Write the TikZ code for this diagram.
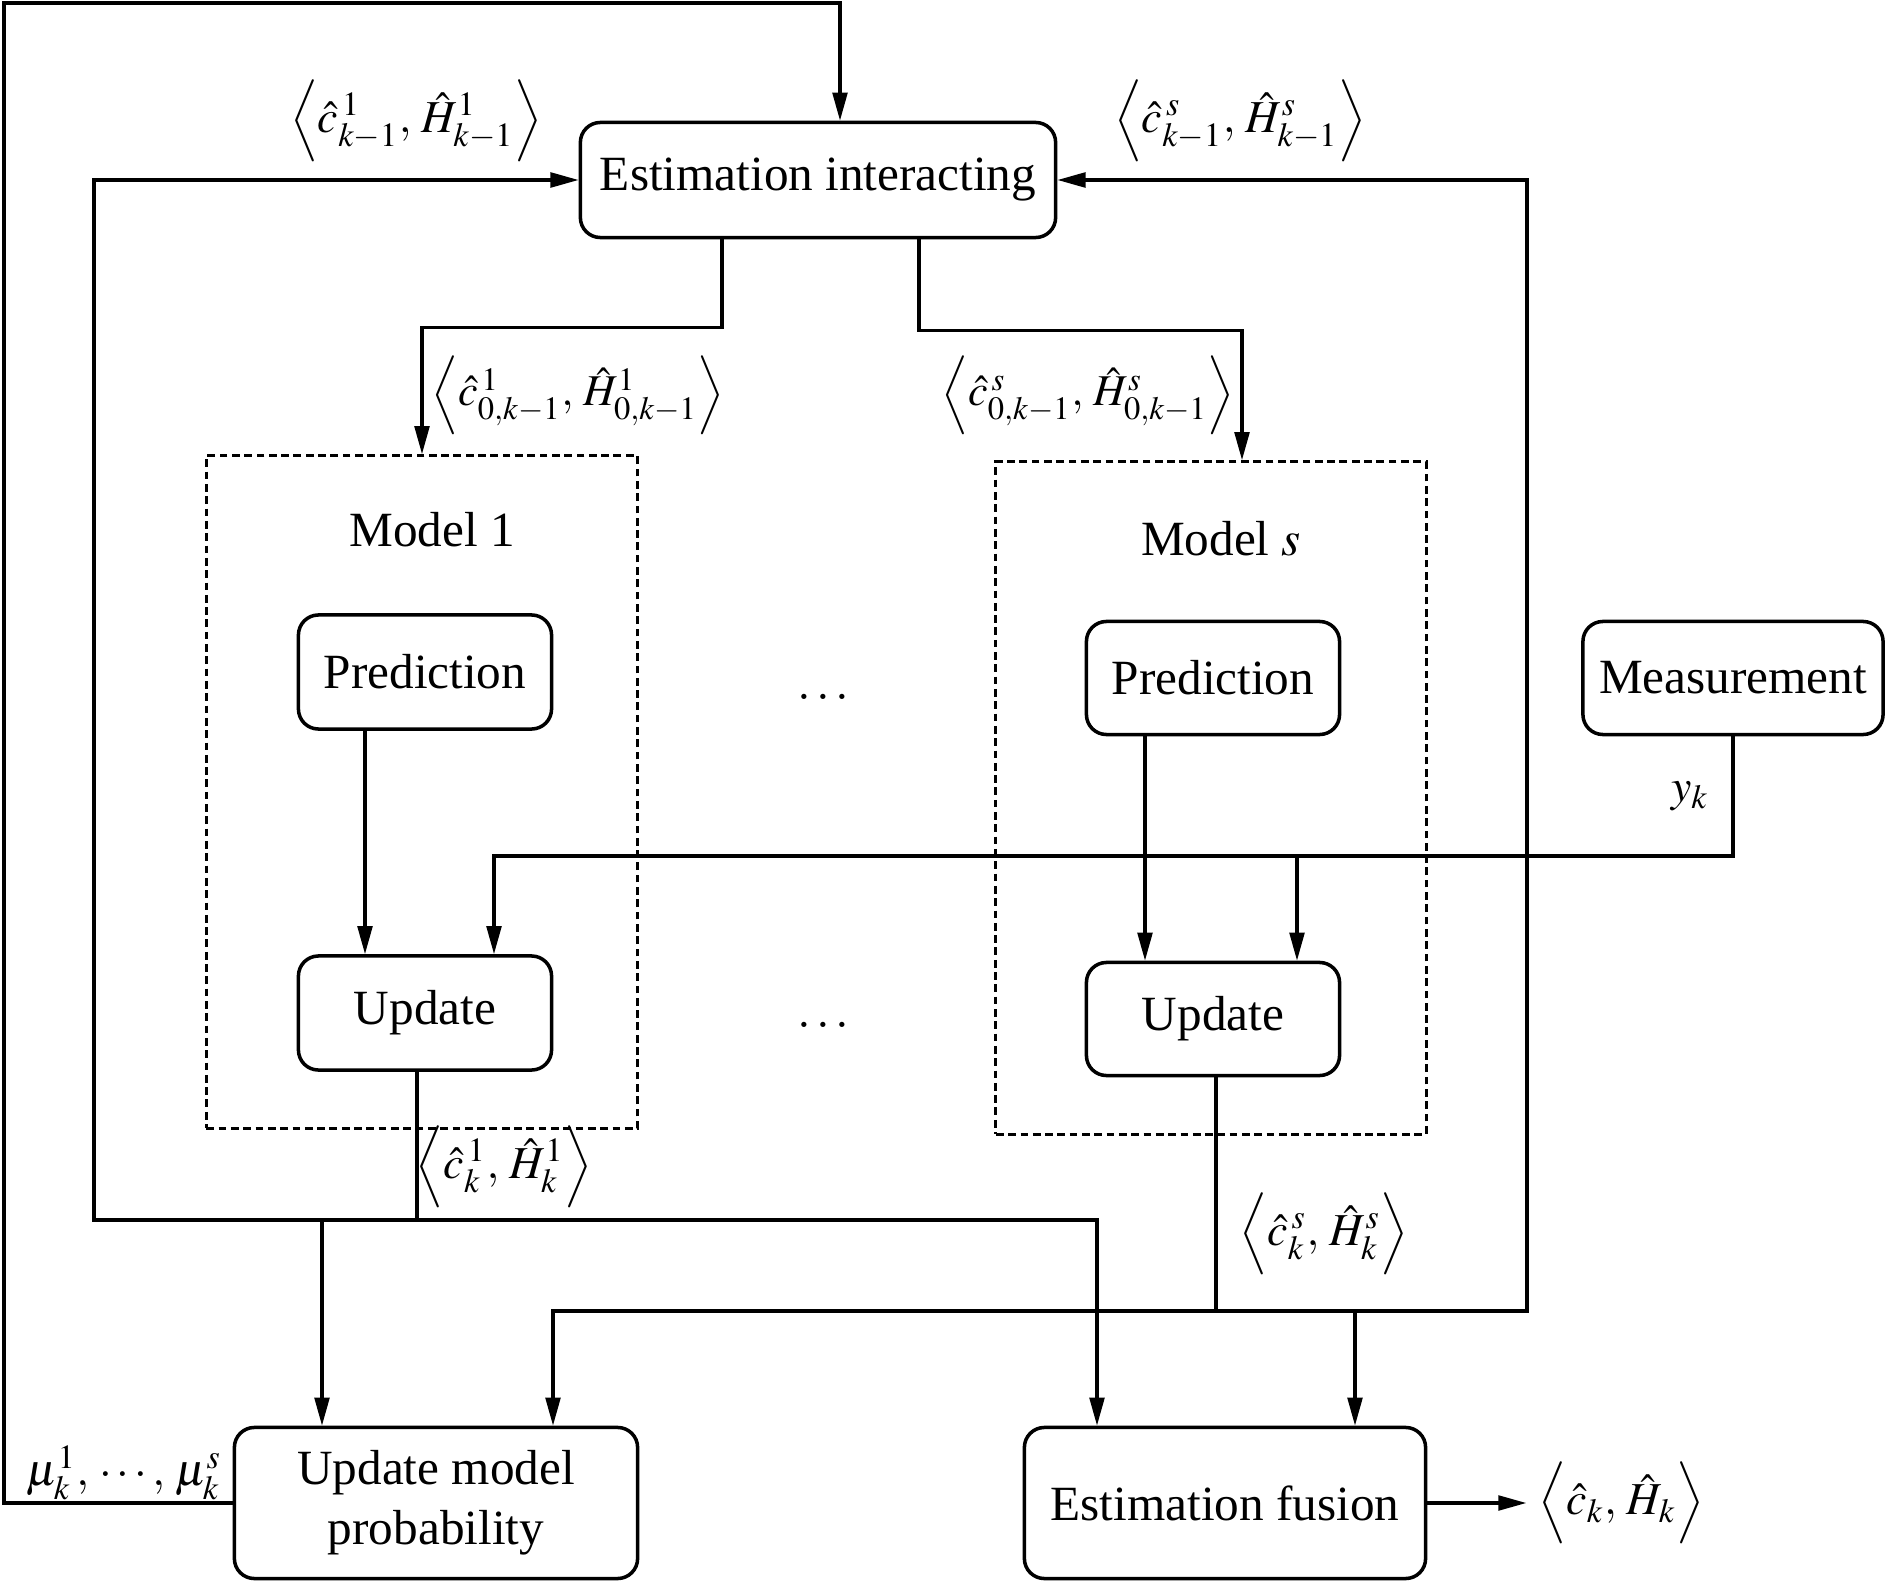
\documentclass[tikz,border=0pt]{standalone}
\usepackage{mathptmx}
\usepackage[no-math]{fontspec}
\setmainfont{Liberation Serif}
\usetikzlibrary{arrows.meta, positioning, calc}

\makeatletter
\newcommand{\angpair}[1]{\bBigg@{1.2}\langle #1 \bBigg@{1.2}\rangle}
\makeatother

\begin{document}
\begin{tikzpicture}[x=0.01cm, y=-0.01cm,
    font=\fontsize{14}{17}\selectfont,
    blk/.style={draw, line width=1pt, rounded corners=0.2cm, align=center, inner sep=0pt},
    modelbox/.style={draw, line width=0.9pt, dash pattern=on 2.2pt off 1.3pt, inner sep=0pt},
    lbl/.style={font=\fontsize{13}{15}\selectfont, inner sep=0pt},
    smlbl/.style={font=\fontsize{12.5}{15}\selectfont, inner sep=0pt},
    conn/.style={line width=0.9pt},
    arr/.style={conn, -{Triangle[length=8pt, width=4.2pt]}}]
  \useasboundingbox (0,0) rectangle (1890,1582);

  % main blocks
  \node[blk, minimum width=4.75cm, minimum height=1.15cm] (interact) at (818,180) {Estimation interacting};
  \node[blk, minimum width=4.03cm, minimum height=1.51cm] (prob) at (436,1503) {Update model\\probability};
  \node[blk, minimum width=4.01cm, minimum height=1.51cm] (fusion) at (1225,1503) {Estimation fusion};
  \node[blk, minimum width=3.0cm, minimum height=1.13cm] (meas) at (1733,678) {Measurement};

  % model 1
  \node[modelbox, minimum width=4.31cm, minimum height=6.72cm] (model1) at (422,792) {};
  \node (model1lbl) at (432,530) {Model 1};
  \node[blk, minimum width=2.53cm, minimum height=1.14cm] (pred1) at (425,672) {Prediction};
  \node[blk, minimum width=2.53cm, minimum height=1.14cm] (upd1) at (425,1013) {Update};

  % model s
  \node[modelbox, minimum width=4.30cm, minimum height=6.72cm] (models) at (1211,798) {};
  \node (modelslbl) at (1221,539) {Model $s$};
  \node[blk, minimum width=2.53cm, minimum height=1.13cm] (preds) at (1213,678) {Prediction};
  \node[blk, minimum width=2.53cm, minimum height=1.13cm] (upds) at (1213,1019) {Update};

  \node (dotsa) at (823,697) {$\ldots$};
  \node (dotsb) at (823,1025) {$\ldots$};

  % interaction outputs to the models
  \draw[arr] ($(interact.south)+(-96,0)$) -- ++(0,88) -| (model1.north);
  \draw[arr] ($(interact.south)+(101,0)$) -- ++(0,91) -| ($(models.north)+(31,0)$);
  \node[smlbl] (in1) at (578,395) {$\angpair{\hat{c}^{\,1}_{0,k-1},\, \hat{H}^{1}_{0,k-1}}$};
  \node[smlbl] (ins) at (1088,395) {$\angpair{\hat{c}^{\,s}_{0,k-1},\, \hat{H}^{s}_{0,k-1}}$};

  % prediction to update
  \draw[arr] ($(pred1.south)+(-60,0)$) -- ($(upd1.north)+(-60,0)$);
  \draw[arr] ($(preds.south)+(-68,0)$) -- ($(upds.north)+(-68,0)$);

  % measurement y_k
  \coordinate (ysplit) at (1297,856);
  \draw[arr] (meas.south) |- (ysplit) -| ($(upd1.north)+(69,0)$);
  \draw[arr] (ysplit) -- ($(upds.north)+(84,0)$);
  \node[lbl] (ylbl) at (1690,796) {$y_k$};

  % model 1 output
  \coordinate (j1) at (417,1220);
  \draw[conn] (upd1.south -| j1) -- (j1);
  \draw[arr] (j1) -- (94,1220) |- (interact.west);
  \draw[arr] (j1) -| ($(prob.north)+(-114,0)$);
  \draw[arr] (j1) -| ($(fusion.north)+(-128,0)$);
  \node[lbl] (out1) at (504,1167) {$\angpair{\hat{c}^{\,1}_{k},\, \hat{H}^{1}_{k}}$};

  % model s output
  \coordinate (j2) at (1216,1311);
  \draw[conn] (upds.south -| j2) -- (j2);
  \draw[arr] (j2) -| ($(prob.north)+(117,0)$);
  \draw[arr] (j2) -- (1527,1311) |- (interact.east);
  \draw[arr] (j2) -| ($(fusion.north)+(130,0)$);
  \node[lbl] (outs) at (1324,1234) {$\angpair{\hat{c}^{\,s}_{k},\, \hat{H}^{s}_{k}}$};

  % model probabilities fed back
  \draw[arr] (prob.west) -- (4,1503) |- (840,3) -- ($(interact.north)+(22,0)$);
  \node[lbl] (mulbl) at (124,1473) {$\mu^{1}_{k},\,\cdots,\,\mu^{s}_{k}$};
  \node[lbl] (prev1) at (416,121) {$\angpair{\hat{c}^{\,1}_{k-1},\, \hat{H}^{1}_{k-1}}$};
  \node[lbl] (prevs) at (1240,121) {$\angpair{\hat{c}^{\,s}_{k-1},\, \hat{H}^{s}_{k-1}}$};

  % fused estimate
  \draw[arr] (fusion.east) -- ++(99,0) node[lbl, right, inner sep=3pt] (final) {$\angpair{\hat{c}_{k},\, \hat{H}_{k}}$};
\end{tikzpicture}
\end{document}
